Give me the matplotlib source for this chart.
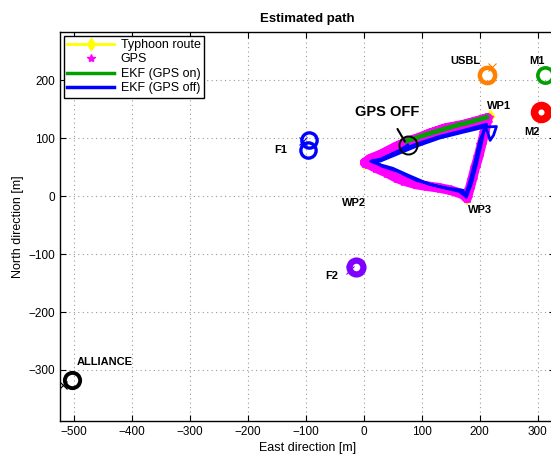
import matplotlib
matplotlib.use("Agg")
import matplotlib.pyplot as plt
from matplotlib.lines import Line2D

plt.rcParams['font.family'] = ['Liberation Sans', 'DejaVu Sans']

# ---------------- data ----------------
route_e = [217, 0, 178, 217]
route_n = [138, 57, -4, 138]

gps_e = [2, 20, 40, 57, 80, 100, 114, 140, 171, 200, 214,
         212, 208, 203, 198, 192, 187, 182, 178,
         171, 150, 131, 110, 91, 70, 57, 40, 22, 8, 2,
         10, 30, 57, 85, 114, 140, 171, 212]
gps_n = [58, 66, 76, 85, 95, 101, 108, 116, 122, 130, 135,
         126, 108, 88, 68, 48, 28, 10, -4,
         3, 10, 14, 17, 20, 26, 31, 40, 48, 55, 57,
         64, 72, 86, 97, 108, 117, 123, 134]

ekf_on_e = [74, 95, 114, 140, 160, 185, 212]
ekf_on_n = [95, 102, 108, 116, 122, 128, 136]

ekf_off_e = [76, 57, 30, 12, 25, 50, 79, 114, 143, 171, 177,
             186, 195, 203, 209, 229, 224, 218, 214, 209,
             171, 131, 91, 57, 28, 16, 30, 57, 91, 131, 165, 175,
             183, 192, 200, 212, 171, 131, 91, 60, 35]
ekf_off_n = [88, 76, 64, 60, 55, 48, 35, 20, 14, 10, -2,
             22, 57, 91, 119, 120, 105, 96, 110, 119,
             110, 100, 86, 72, 60, 62, 52, 43, 27, 16, 8, 0,
             25, 60, 95, 124, 113, 103, 90, 78, 66]

# drifting objects
obj_names = ['ALLIANCE', 'F1', 'F1', 'F2', 'USBL', 'M1', 'M2']
obj_e = [-503, -95, -97, -14, 212, 312, 305]
obj_n = [-317, 96, 80, -122, 208, 208, 145]
obj_colors = ['black', '#0000FF', '#0000FF', '#8000FF', '#FF8000', '#00A000', '#FF0000']
obj_sizes = [11, 11, 11, 10, 11, 11, 10]
obj_widths = [2.8, 2.4, 2.4, 4.5, 3.2, 2.6, 5.5]

label_texts = ['ALLIANCE', 'F1', 'F2', 'USBL', 'M1', 'M2', 'WP1', 'WP2', 'WP3']
label_e = [-446, -143, -55, 176, 298, 291, 233, -17, 200]
label_n = [-286, 79, -138, 233, 233, 110, 155, -12, -24]

cross_e = [-519, -105, -24, 222]
cross_n = [-326, 95, -128, 222]
cross_colors = ['black', '#0000FF', '#8000FF', '#FF8000']

gps_off_e, gps_off_n = 76, 88

xticks = [-500, -400, -300, -200, -100, 0, 100, 200, 300]
yticks = [-300, -200, -100, 0, 100, 200]

# ---------------- figure ----------------
fig = plt.figure(figsize=(5.51, 4.55), dpi=100)
ax = fig.add_axes([60/551, 34/455, 495/551, 389/455])
ax.set_xlim(-524, 330)
ax.set_ylim(-388, 283)

ax.plot(route_e, route_n, color='yellow', lw=2, marker='d', ms=6, zorder=2)
ax.plot(gps_e, gps_n, color='#FF00FF', lw=7, solid_joinstyle='round',
        solid_capstyle='round', zorder=3)
ax.plot(gps_e, gps_n, ls='none', marker='*', color='#FF00FF', ms=7, zorder=3)
ax.plot(ekf_on_e, ekf_on_n, color='#00A000', lw=3.5, zorder=4)
ax.plot(ekf_off_e, ekf_off_n, color='#0000FF', lw=2.0, zorder=5)

for e, n, c, s, w in zip(obj_e, obj_n, obj_colors, obj_sizes, obj_widths):
    ax.plot([e], [n], marker='o', ms=s, mfc='none', mec=c, mew=w, zorder=6)

for e, n, c in zip(cross_e, cross_n, cross_colors):
    ax.plot([e], [n], marker='x', ms=6, color=c, mew=0.8, zorder=6)

for t, e, n in zip(label_texts, label_e, label_n):
    ax.text(e, n, t, fontsize=8, fontweight='bold', ha='center', va='center', zorder=7)

# GPS OFF marker
ax.plot([gps_off_e], [gps_off_n], marker='o', ms=13, mfc='none', mec='black',
        mew=1.4, zorder=8)
ax.annotate('GPS OFF', xy=(71, 94), xytext=(41, 145), fontsize=10.5,
            fontweight='bold', ha='center', va='center', zorder=8,
            arrowprops=dict(arrowstyle='-', color='black', lw=1.5,
                            shrinkA=6, shrinkB=0))

ax.set_xticks(xticks)
ax.set_yticks(yticks)
ax.tick_params(direction='in', length=4, labelsize=8.5, top=True, right=True)
ax.grid(True, color='#999999', linestyle=(0, (1, 3)), lw=0.8)
for s in ax.spines.values():
    s.set_linewidth(1.0)

ax.set_title('Estimated path', fontsize=9.5, fontweight='bold', pad=7)
ax.set_xlabel('East direction [m]', fontsize=9, labelpad=3)
ax.set_ylabel('North direction [m]', fontsize=9, labelpad=3)

handles = [
    Line2D([], [], color='yellow', lw=2, marker='d', ms=6),
    Line2D([], [], color='#FF00FF', ls='none', marker='*', ms=6),
    Line2D([], [], color='#00A000', lw=2.5),
    Line2D([], [], color='#0000FF', lw=2.5),
]
leg = ax.legend(handles, ['Typhoon route', 'GPS', 'EKF (GPS on)', 'EKF (GPS off)'],
                loc='upper left', fontsize=9, frameon=True, fancybox=False,
                edgecolor='black', framealpha=1, borderpad=0.25,
                labelspacing=0.2, handlelength=3.8, handletextpad=0.5,
                borderaxespad=0.3)
leg.get_frame().set_linewidth(1.0)

fig.savefig('out.png', dpi=100)
